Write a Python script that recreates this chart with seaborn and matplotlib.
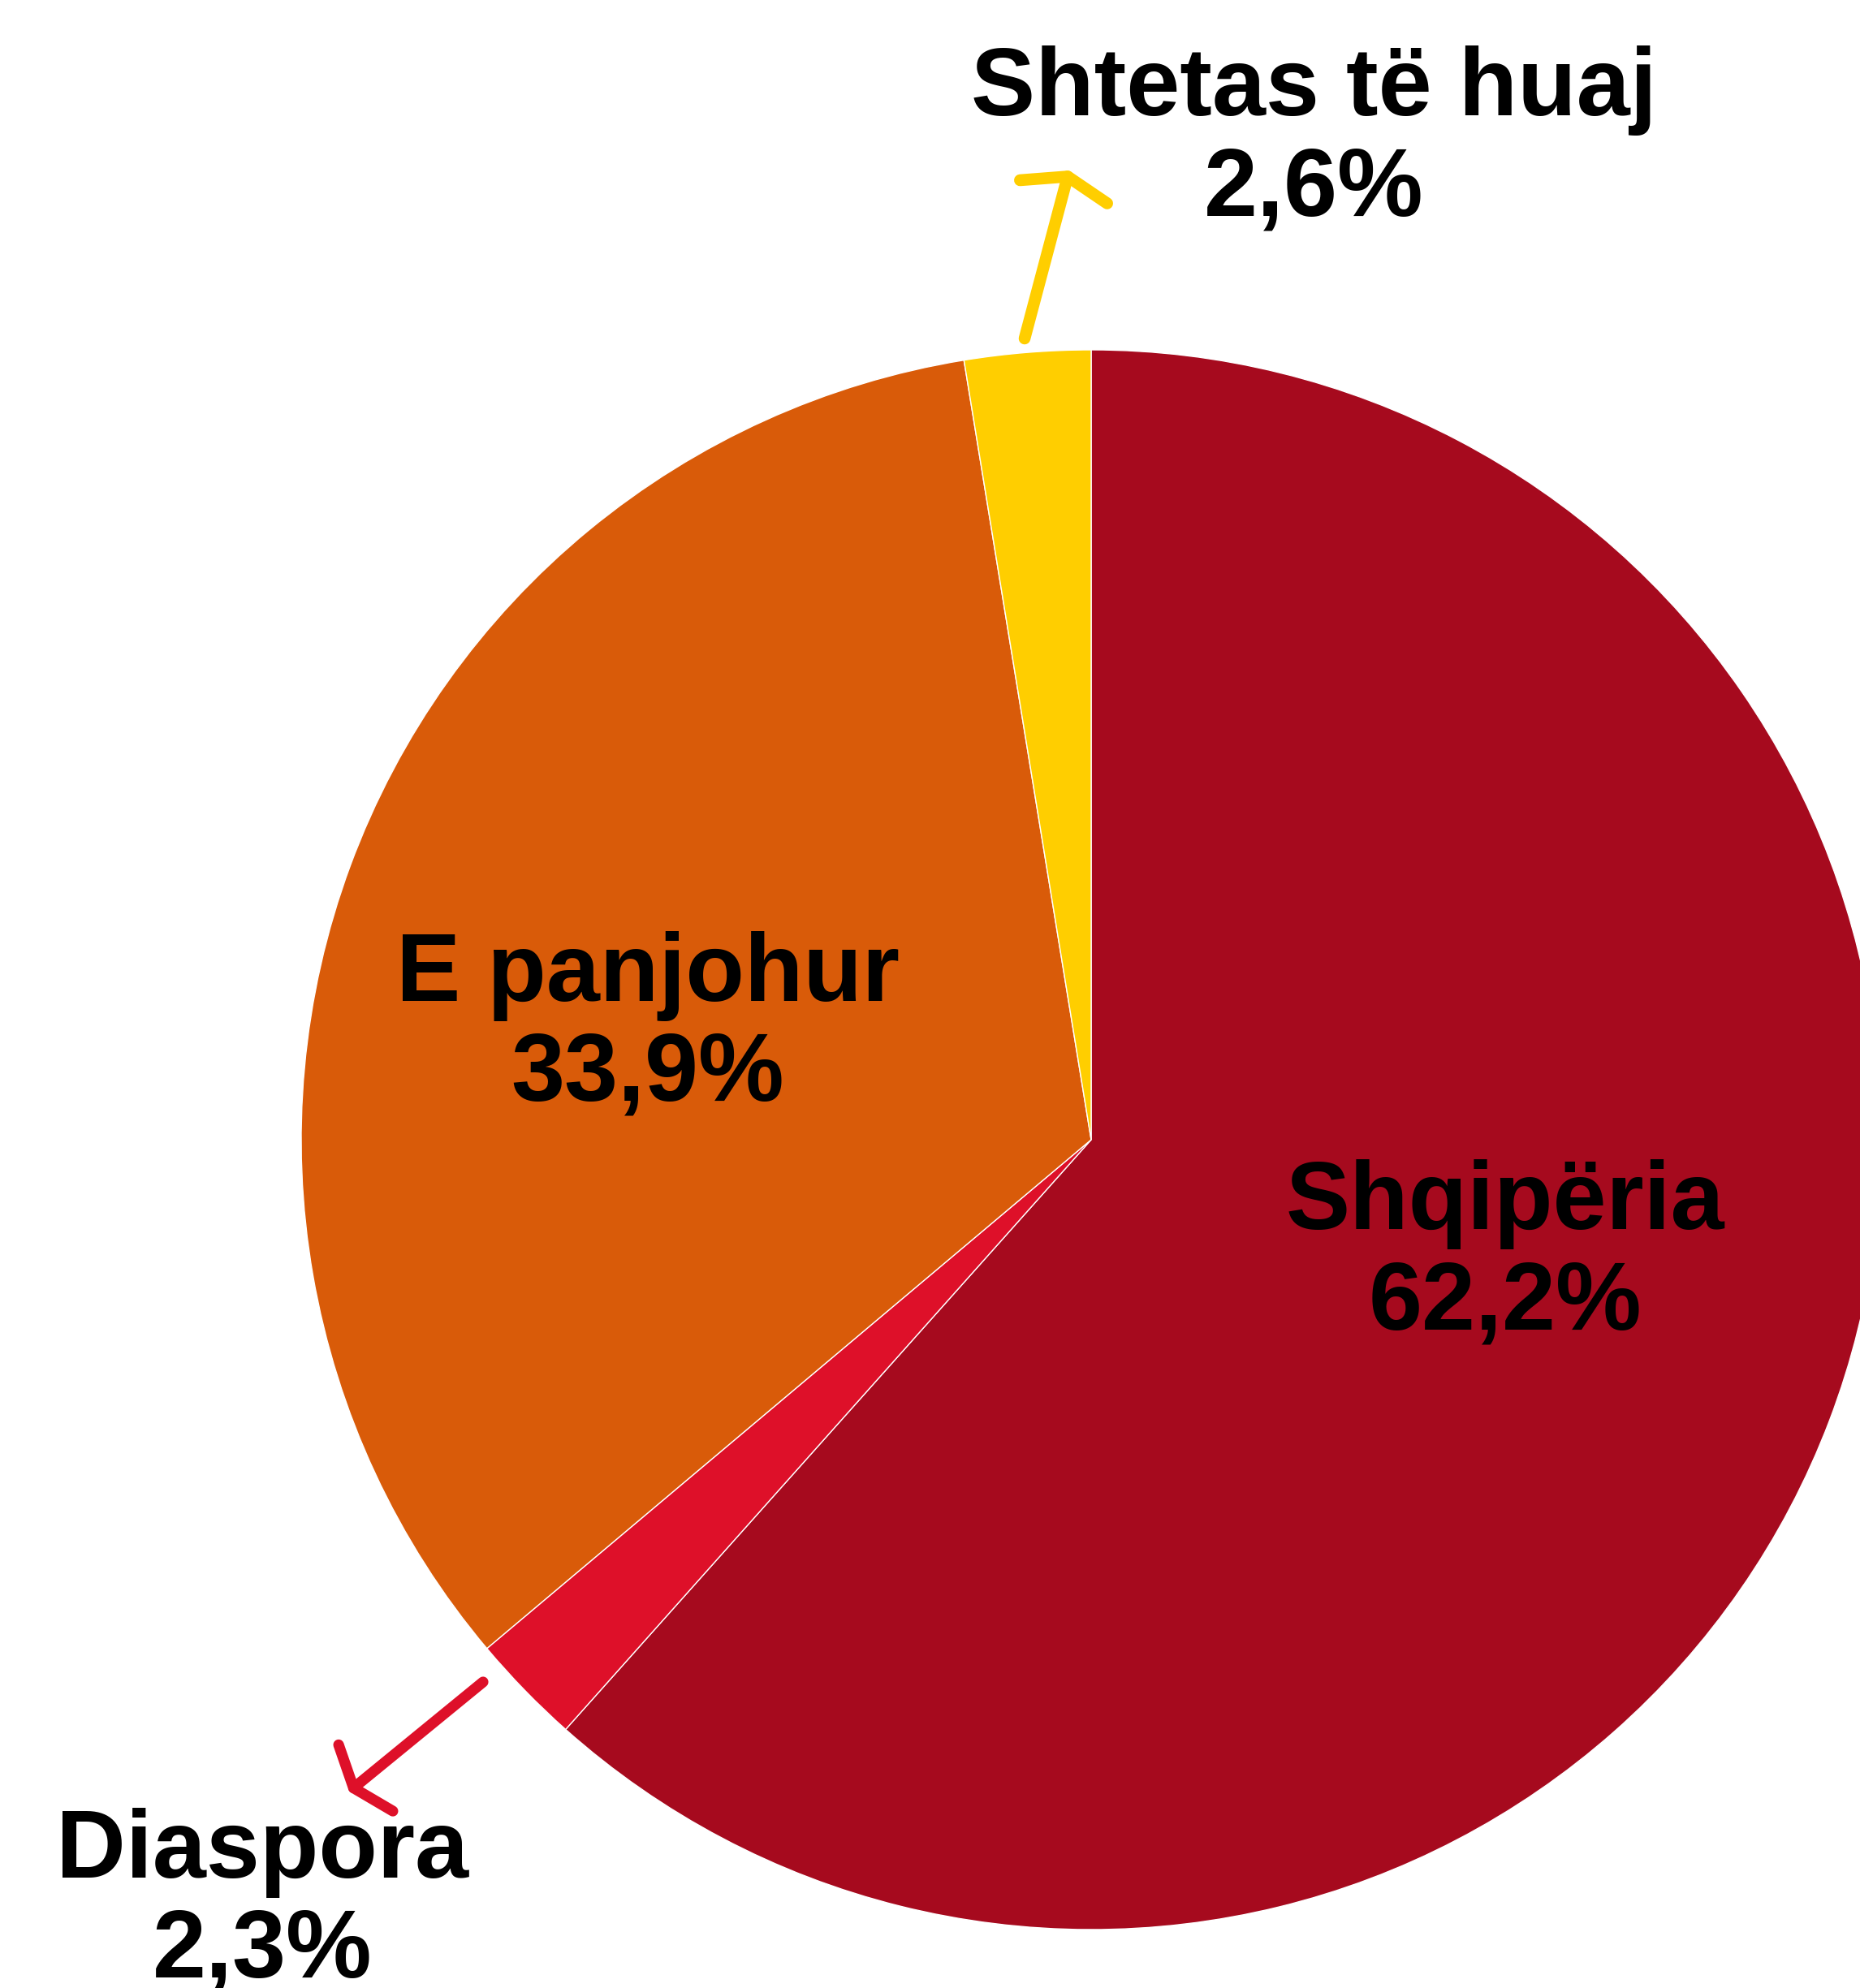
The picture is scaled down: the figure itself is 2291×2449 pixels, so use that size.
import matplotlib
matplotlib.use("Agg")
import matplotlib.pyplot as plt
import seaborn as sns

# te dhenat
kategorite = ["Shqipëria", "Diaspora", "E panjohur", "Shtetas të huaj"]
perqindjet = [62.2, 2.3, 33.9, 2.6]
etiketat = ["62,2%", "2,3%", "33,9%", "2,6%"]
ngjyrat = ["#A60A1E", "#DE1029", "#D95B09", "#FFCE00"]

sns.set_style("white")
plt.rcParams['font.family'] = ['Liberation Sans', 'DejaVu Sans']

W, H = 2291, 2449
fig = plt.figure(figsize=(W / 100, H / 100), dpi=100)
ax = fig.add_axes([0, 0, 1, 1])

cx, cy, r = 1344, H - 1404, 973
ax.pie(perqindjet, colors=ngjyrat, startangle=90, counterclock=False,
       center=(cx, cy), radius=r, frame=True,
       wedgeprops=dict(edgecolor='white', linewidth=1))
ax.set_xlim(0, W)
ax.set_ylim(0, H)
ax.set_aspect('equal')
ax.axis('off')

fs = 85.5
ls = 1.14
# pozicioni (baseline i rreshtit te fundit)
pos = {
    "Shqipëria": (1854, H - 1637),
    "E panjohur": (798, H - 1356),
    "Shtetas të huaj": (1618, H - 265),
    "Diaspora": (323, H - 2436),
}
for k, e in zip(kategorite, etiketat):
    x, y = pos[k]
    ax.text(x, y, k + "\n" + e, ha='center', va='baseline', fontsize=fs,
            fontweight='bold', linespacing=ls, color='black')

# shigjetat
ax.annotate("", xy=(1317, H - 210), xytext=(1262, H - 417),
            arrowprops=dict(arrowstyle='->,head_length=14,head_width=40',
                            color=ngjyrat[3], lw=10.5, mutation_scale=1,
                            shrinkA=0, shrinkB=0, capstyle='round',
                            joinstyle='round'))
ax.annotate("", xy=(430, H - 2207), xytext=(595, H - 2072),
            arrowprops=dict(arrowstyle='->,head_length=14,head_width=38',
                            color=ngjyrat[1], lw=9.5, mutation_scale=1,
                            shrinkA=0, shrinkB=0, capstyle='round',
                            joinstyle='round'))

fig.savefig("out.png", dpi=100)
